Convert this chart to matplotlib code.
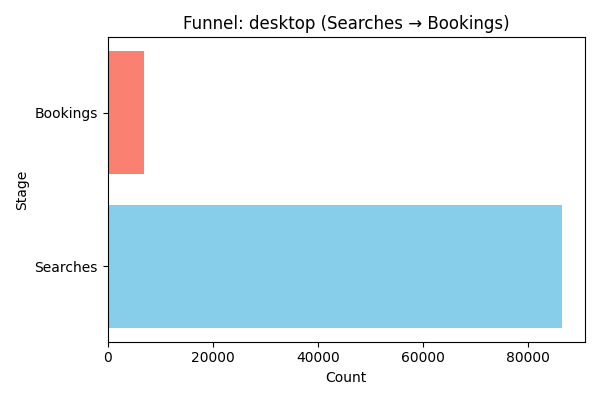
import matplotlib
matplotlib.use("Agg")
from matplotlib import pyplot as plt

stages = ["Searches", "Bookings"]
counts = [86500, 7000]
colors = ["skyblue", "salmon"]

fig, ax = plt.subplots(figsize=(6, 4), dpi=100)
ax.barh(stages, counts, color=colors)
ax.set_title("Funnel: desktop (Searches \u2192 Bookings)")
ax.set_xlabel("Count")
ax.set_ylabel("Stage")
fig.tight_layout()
fig.savefig("out.png")
